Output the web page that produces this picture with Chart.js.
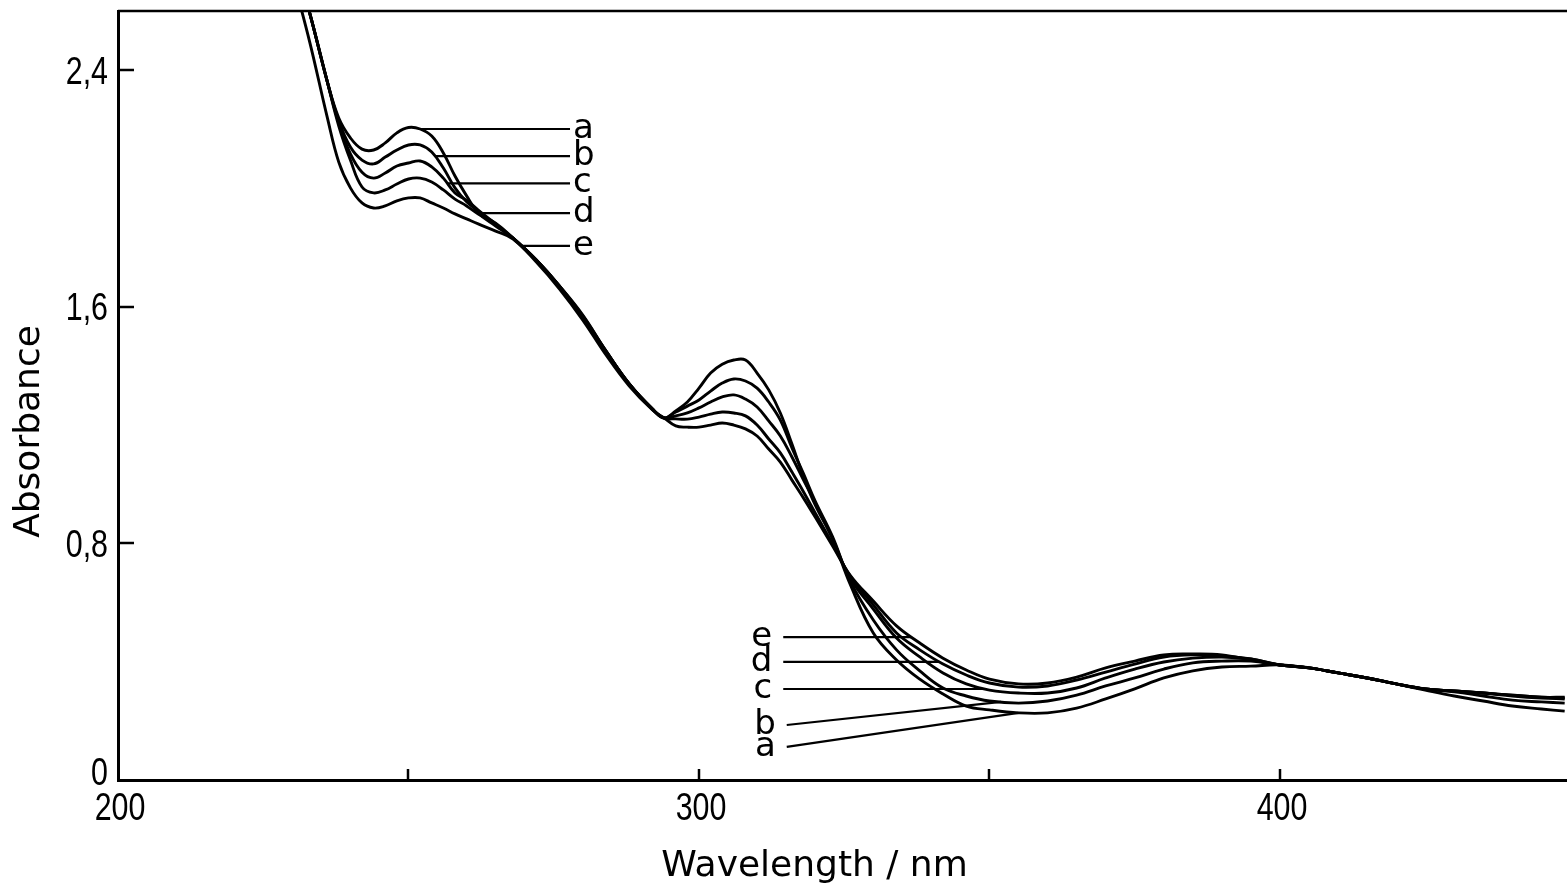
<!DOCTYPE html>
<html>
<head>
<meta charset="utf-8">
<title>Absorbance spectra</title>
<script src="https://cdn.jsdelivr.net/npm/chart.js@4.4.1/dist/chart.umd.min.js"></script>
<style>
  html, body { margin: 0; padding: 0; background: #fff; }
  canvas { display: block; }
</style>
</head>
<body>
<canvas id="spectra" width="1567" height="892"></canvas>
<script>
// Wavelength grid (nm) shared by all spectra
const wavelength = [230,233,236,238,240,242,244,246,248,250,252,254,256,258,260,262,265,268,272,276,280,284,288,292,294,296,298,300,302,304,306,308,310,312,314,316,318,320,323,326,330,334,338,342,346,350,355,360,365,370,375,380,385,390,395,400,405,410,415,420,425,430,435,440,445,449];

// Absorbance of spectra a–e
const seriesA = [2.80,2.593,2.363,2.238,2.171,2.133,2.130,2.154,2.188,2.206,2.201,2.177,2.120,2.042,1.975,1.917,1.873,1.832,1.758,1.670,1.572,1.450,1.339,1.254,1.224,1.248,1.278,1.325,1.376,1.406,1.420,1.420,1.376,1.319,1.241,1.136,1.025,0.930,0.815,0.663,0.497,0.406,0.341,0.291,0.250,0.237,0.227,0.227,0.243,0.274,0.308,0.345,0.369,0.382,0.385,0.389,0.379,0.362,0.345,0.325,0.304,0.284,0.267,0.250,0.240,0.233];
const seriesB = [2.80,2.593,2.363,2.228,2.140,2.096,2.083,2.106,2.130,2.147,2.147,2.123,2.069,2.002,1.955,1.924,1.876,1.832,1.758,1.670,1.569,1.450,1.339,1.254,1.224,1.244,1.264,1.285,1.315,1.342,1.356,1.349,1.325,1.278,1.217,1.123,1.035,0.943,0.822,0.673,0.541,0.440,0.369,0.311,0.284,0.267,0.260,0.267,0.287,0.318,0.345,0.375,0.396,0.402,0.402,0.389,0.379,0.362,0.345,0.325,0.308,0.298,0.284,0.270,0.264,0.260];
const seriesC = [2.80,2.593,2.363,2.221,2.117,2.055,2.035,2.052,2.076,2.086,2.093,2.073,2.035,1.985,1.960,1.927,1.880,1.832,1.758,1.670,1.565,1.450,1.339,1.254,1.224,1.231,1.241,1.258,1.278,1.295,1.302,1.288,1.261,1.214,1.163,1.092,1.014,0.937,0.815,0.683,0.578,0.480,0.416,0.362,0.325,0.304,0.294,0.294,0.311,0.345,0.375,0.399,0.412,0.416,0.409,0.389,0.379,0.362,0.345,0.325,0.308,0.301,0.294,0.284,0.277,0.274];
const seriesD = [2.80,2.593,2.363,2.211,2.096,2.005,1.985,1.995,2.015,2.032,2.035,2.022,1.995,1.964,1.941,1.914,1.883,1.832,1.758,1.667,1.562,1.447,1.339,1.254,1.224,1.221,1.220,1.227,1.237,1.244,1.241,1.231,1.200,1.153,1.106,1.041,0.974,0.903,0.798,0.690,0.592,0.497,0.440,0.392,0.355,0.328,0.314,0.318,0.338,0.365,0.392,0.416,0.423,0.419,0.409,0.389,0.379,0.362,0.345,0.325,0.308,0.301,0.294,0.287,0.280,0.277];
const seriesE = [2.72,2.495,2.242,2.089,2.002,1.951,1.934,1.941,1.958,1.968,1.968,1.951,1.934,1.914,1.897,1.880,1.856,1.829,1.751,1.660,1.555,1.437,1.332,1.251,1.224,1.197,1.193,1.193,1.200,1.207,1.200,1.187,1.163,1.119,1.075,1.014,0.953,0.889,0.791,0.693,0.605,0.521,0.463,0.412,0.372,0.341,0.325,0.328,0.348,0.379,0.402,0.423,0.426,0.423,0.406,0.389,0.379,0.362,0.345,0.325,0.308,0.301,0.294,0.287,0.280,0.280];

const seriesNames = ['a', 'b', 'c', 'd', 'e'];
const seriesValues = [seriesA, seriesB, seriesC, seriesD, seriesE];

// Axis ticks
const xTickValues = [200, 250, 300, 350, 400];
const xTickLabels = ['200', '', '300', '', '400'];
const yTickValues = [0, 0.8, 1.6, 2.4];
const yTickLabels = ['0', '0,8', '1,6', '2,4'];

// Curve labels: where each leader touches its curve (nm) and where the label sits
const upperAnchorNm = [252.0, 254.5, 256.7, 261.8, 269.2];
const upperLabelNm = 277.8;
const lowerAnchorNm = [355.0, 352.0, 349.3, 341.4, 336.6];
const lowerLabelNm = [315.1, 315.1, 314.5, 314.5, 314.5];
const lowerLabelAbs = [0.112, 0.186, null, null, null]; // null: horizontal leader

function valueAt(values, nm) {
  for (let i = 0; i < wavelength.length - 1; i++) {
    const x0 = wavelength[i], x1 = wavelength[i + 1];
    if (nm >= x0 && nm <= x1) {
      const t = (nm - x0) / (x1 - x0);
      return values[i] + t * (values[i + 1] - values[i]);
    }
  }
  return values[values.length - 1];
}

const INK = '#000';
const TICK_FONT = "38px 'Liberation Sans', 'DejaVu Sans', sans-serif";
const LETTER_FONT = "34px 'DejaVu Sans', sans-serif";
const TITLE_FONT = "36px 'DejaVu Sans', sans-serif";

const decorations = {
  id: 'decorations',
  afterDatasetsDraw(chart) {
    const { ctx, chartArea: ca, scales: { x, y } } = chart;
    const seg = (x1, y1, x2, y2) => { ctx.beginPath(); ctx.moveTo(x1, y1); ctx.lineTo(x2, y2); ctx.stroke(); };
    // narrow drafting-style numerals
    const narrowText = (text, px, py, align) => {
      ctx.save();
      ctx.translate(px, py);
      ctx.scale(0.8, 1);
      ctx.textAlign = align;
      ctx.fillText(text, 0, 0);
      ctx.restore();
    };
    ctx.save();
    ctx.strokeStyle = INK;
    ctx.fillStyle = INK;
    ctx.lineCap = 'butt';

    // top frame line
    ctx.lineWidth = 2.5;
    seg(ca.left, ca.top, ca.right, ca.top);

    // inward tick marks
    xTickValues.forEach(v => {
      if (v === x.min) return;
      const px = Math.round(x.getPixelForValue(v));
      seg(px, ca.bottom, px, ca.bottom - 11);
    });
    yTickValues.forEach(v => {
      if (v === y.min) return;
      const py = Math.round(y.getPixelForValue(v));
      seg(ca.left, py, ca.left + 16, py);
    });

    // tick labels
    ctx.font = TICK_FONT;
    ctx.textBaseline = 'alphabetic';
    xTickValues.forEach((v, i) => {
      if (!xTickLabels[i]) return;
      narrowText(xTickLabels[i], x.getPixelForValue(v) + 2, ca.bottom + 40, 'center');
    });
    yTickValues.forEach((v, i) => {
      const py = y.getPixelForValue(v);
      const base = Math.min(py + 13.5, ca.bottom + 5);
      narrowText(yTickLabels[i], ca.left - 10, base, 'right');
    });

    // curve labels with leaders
    ctx.lineWidth = 2.2;
    ctx.font = LETTER_FONT;
    seriesNames.forEach((name, i) => {
      const vals = seriesValues[i];
      // upper group
      const uy = y.getPixelForValue(valueAt(vals, upperAnchorNm[i]));
      const ux0 = x.getPixelForValue(upperAnchorNm[i]);
      const ux1 = x.getPixelForValue(upperLabelNm);
      seg(ux0, uy, ux1, uy);
      ctx.textAlign = 'left';
      ctx.fillText(name, ux1 + 3, uy + 9);

      // lower group
      const lyA = y.getPixelForValue(valueAt(vals, lowerAnchorNm[i]));
      const lxA = x.getPixelForValue(lowerAnchorNm[i]);
      const lyL = lowerLabelAbs[i] === null ? lyA : y.getPixelForValue(lowerLabelAbs[i]);
      const lxL = x.getPixelForValue(lowerLabelNm[i]);
      seg(lxL, lyL, lxA, lyA);
      ctx.textAlign = 'right';
      ctx.fillText(name, lxL - 11, lyL + 9);
    });

    // axis titles
    ctx.font = TITLE_FONT;
    ctx.textAlign = 'center';
    ctx.textBaseline = 'middle';
    ctx.fillText('Wavelength / nm', (ca.left + ca.right) / 2 - 28, ca.bottom + 87);
    ctx.save();
    ctx.translate(30, (ca.top + ca.bottom) / 2 + 36);
    ctx.rotate(-Math.PI / 2);
    ctx.fillText('Absorbance', 0, 0);
    ctx.restore();

    ctx.restore();
  }
};

const datasets = seriesNames.map((name, i) => ({
  label: name,
  data: wavelength.map((w, k) => ({ x: w, y: seriesValues[i][k] })),
  borderColor: INK,
  borderWidth: 2.9,
  pointRadius: 0,
  fill: false,
  tension: 0.4
}));

new Chart(document.getElementById('spectra'), {
  type: 'line',
  data: { datasets },
  plugins: [decorations],
  options: {
    responsive: false,
    animation: false,
    devicePixelRatio: 1,
    layout: { padding: { top: 11, right: 0, left: 0, bottom: 0 } },
    plugins: { legend: { display: false }, tooltip: { enabled: false } },
    scales: {
      x: {
        type: 'linear',
        min: 200,
        max: 449.4,
        grid: { display: false, drawTicks: false },
        border: { display: true, color: INK, width: 3 },
        afterBuildTicks: s => { s.ticks = xTickValues.map(v => ({ value: v })); },
        afterFit: s => { s.height = 112; s.paddingLeft = 0; s.paddingRight = 0; },
        ticks: { display: false }
      },
      y: {
        type: 'linear',
        min: 0,
        max: 2.6,
        grid: { display: false, drawTicks: false },
        border: { display: true, color: INK, width: 3 },
        afterBuildTicks: s => { s.ticks = yTickValues.map(v => ({ value: v })); },
        afterFit: s => { s.width = 118; s.paddingTop = 0; s.paddingBottom = 0; },
        ticks: { display: false }
      }
    }
  }
});
</script>
</body>
</html>
